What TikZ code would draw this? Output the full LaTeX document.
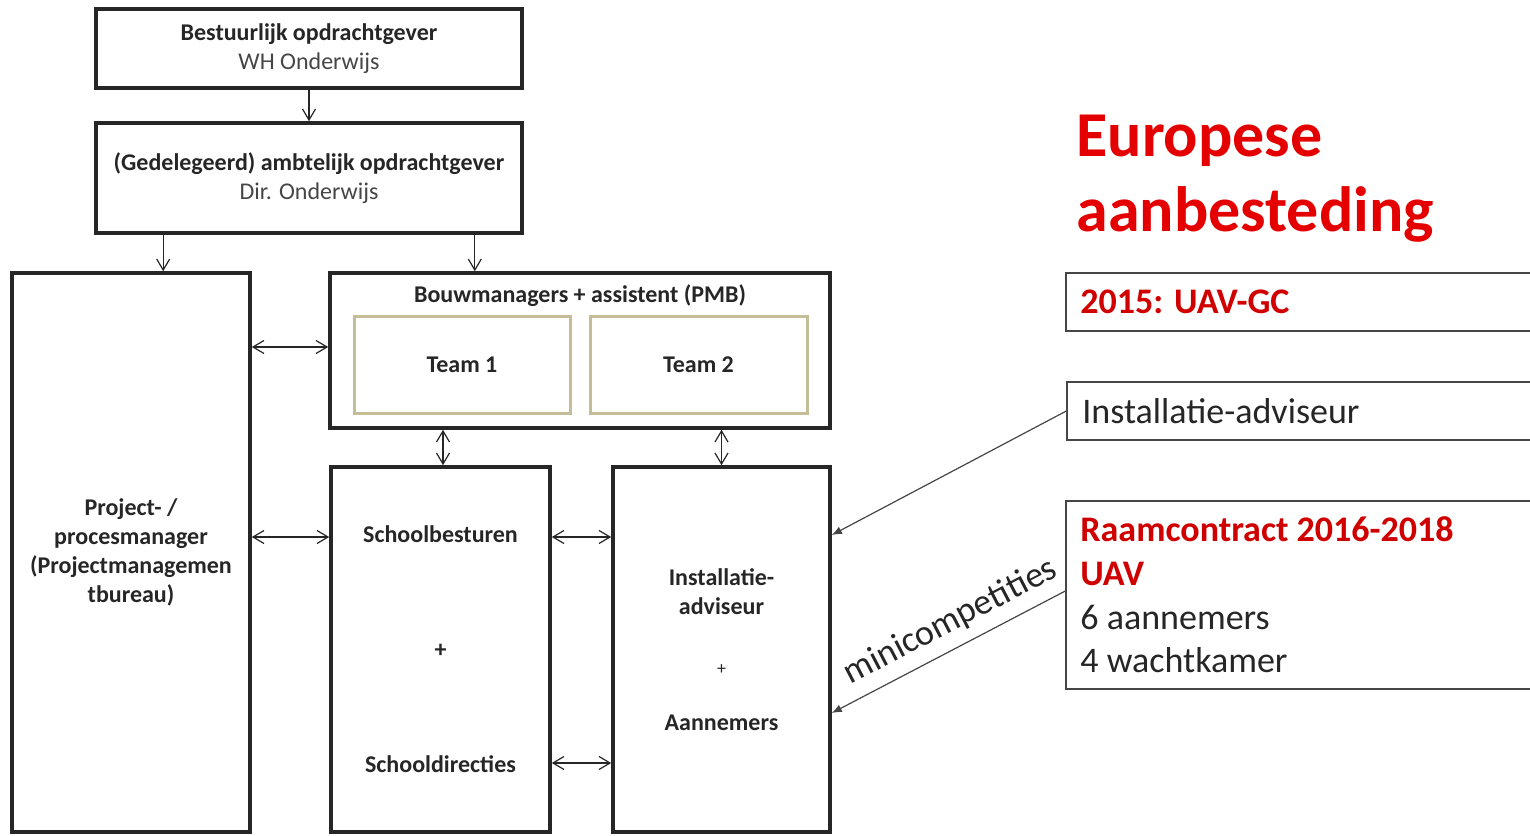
\documentclass[tikz,border=0pt]{standalone}
\usepackage{fontspec}
\setmainfont{Carlito}
\usetikzlibrary{arrows.meta,calc}

\definecolor{titlered}{RGB}{228,0,0}
\definecolor{boxred}{RGB}{208,0,0}
\definecolor{teamtan}{RGB}{196,189,151}
\definecolor{darktext}{RGB}{38,38,38}
\definecolor{softtext}{RGB}{70,70,70}

\tikzset{
  orgbox/.style={draw=darktext, line width=1.8pt, inner sep=0pt, align=center,
    text=darktext, font=\bfseries\fontsize{12}{14.5}\selectfont},
  teambox/.style={draw=teamtan, line width=1.5pt, inner sep=0pt,
    text=darktext, font=\bfseries\fontsize{12}{14.5}\selectfont},
  infobox/.style={draw=softtext, line width=0.7pt, inner sep=0pt},
  infotext/.style={anchor=west, inner sep=0pt, align=left, text=darktext,
    font=\fontsize{18}{21.8}\selectfont},
  link/.style={draw=darktext, line width=0.6pt},
  feed/.style={draw=softtext, line width=0.6pt, -{Latex[length=5pt,width=4pt]}}
}

\begin{document}
\begin{tikzpicture}[x=0.5pt, y=-0.5pt, >={Straight Barb[length=5.5pt,width=6.5pt]}]
			\path[use as bounding box, clip] (0,0) rectangle (1530,835);
			\fill[white] (0,0) rectangle (1530,835);
			
			%%%%% linker kant: organisatie %%%%%
			\node[orgbox, minimum width=213pt, minimum height=39.5pt] (bestuur) at (309,48.5)
			  {Bestuurlijk opdrachtgever\\{\mdseries\color{softtext}WH Onderwijs}};
			\node[orgbox, minimum width=213pt, minimum height=55pt] (ambt) at (309,178)
			  {(Gedelegeerd) ambtelijk opdrachtgever\\{\mdseries\color{softtext}Dir. Onderwijs}};
			
			\node[orgbox, minimum width=119pt, minimum height=279.5pt] (pm) at (131,552.5)
			  {Project- /\\procesmanager\\(Projectmanagemen\\tbureau)};
			\node[orgbox, minimum width=250pt, minimum height=77.5pt] (pmb) at (580,350.5) {};
			\node[orgbox, draw=none] (pmbtitel) at ($(pmb.north)+(0,24)$)
			  {Bouwmanagers + assistent (PMB)};
			\node[teambox, minimum width=108pt, minimum height=48.5pt] (team1) at (462,364.5) {Team 1};
			\node[teambox, minimum width=108.5pt, minimum height=48.5pt] (team2) at (698.5,364.5) {Team 2};
			
			\node[orgbox, minimum width=109.5pt, minimum height=182.5pt] (school) at (440.5,649.5)
			  {Schoolbesturen\\[43pt]+\\[43pt]Schooldirecties};
			\node[orgbox, minimum width=108.5pt, minimum height=182.5pt] (install) at (721.5,649.5)
			  {Installatie-\\adviseur\\[15.5pt]{\mdseries\small +}\\[13.5pt]Aannemers};
			
			\coordinate (rij1) at (0,347);
			\coordinate (rij2) at (0,537);
			\coordinate (rij3) at (0,763);
			
			\draw[link, ->] (bestuur.south) -- (ambt.north);
			\draw[link, ->] ($(ambt.south west)+(69,0)$) coordinate (k1) -- (k1 |- pm.north);
			\draw[link, ->] ($(ambt.south east)+(-49,0)$) coordinate (k2) -- (k2 |- pmb.north);
			
			\draw[link, <->] (pm.east |- rij1) -- (pmb.west |- rij1);
			\draw[link, <->] (pm.east |- rij2) -- (school.west |- rij2);
			\draw[link, <->] (school.east |- rij2) -- (install.west |- rij2);
			\draw[link, <->] (school.east |- rij3) -- (install.west |- rij3);
			\draw[link, <->] (school.north -| 443,0) -- (pmb.south -| 443,0);
			\draw[link, <->] (install.north) -- (pmb.south -| install.north);
			
			%%%%% rechter kant: aanbesteding %%%%%
			\node[anchor=west, inner sep=0pt, align=left, text=titlered,
			  font=\bfseries\fontsize{32}{37.5}\selectfont] (titel) at (1076,179)
			  {Europese\\aanbesteding};
			
			\node[infobox, minimum width=239.5pt, minimum height=29pt] (uav) at (1305.5,302) {};
			\node[infotext, text=boxred, font=\bfseries\fontsize{18}{21.8}\selectfont]
			  (uavtekst) at (1080,302) {2015: UAV-GC};
			
			\node[infobox, minimum width=239pt, minimum height=29pt] (advies) at (1306,411) {};
			\node[infotext] (adviestekst) at (1082,411) {Installatie-adviseur};
			
			\node[infobox, minimum width=239.5pt, minimum height=94pt] (raam) at (1305.5,595) {};
			\node[infotext] (raamtekst) at (1080,595)
			  {{\bfseries\color{boxred}Raamcontract 2016-2018}\\
			   {\bfseries\color{boxred}UAV}\\
			   6 aannemers\\
			   4 wachtkamer};
			
			\coordinate (pijl1) at (832,535);
			\coordinate (pijl2) at (832,713);
			\draw[feed] (advies.west) -- (pijl1 -| install.east);
			\draw[feed] (raam.west |- 0,591) -- (pijl2 -| install.east)
			  node[pos=0.44, sloped, above=5pt, inner sep=0pt, text=darktext,
			    font=\fontsize{18}{21.8}\selectfont] (mini) {minicompetities};
		\end{tikzpicture}
\end{document}
